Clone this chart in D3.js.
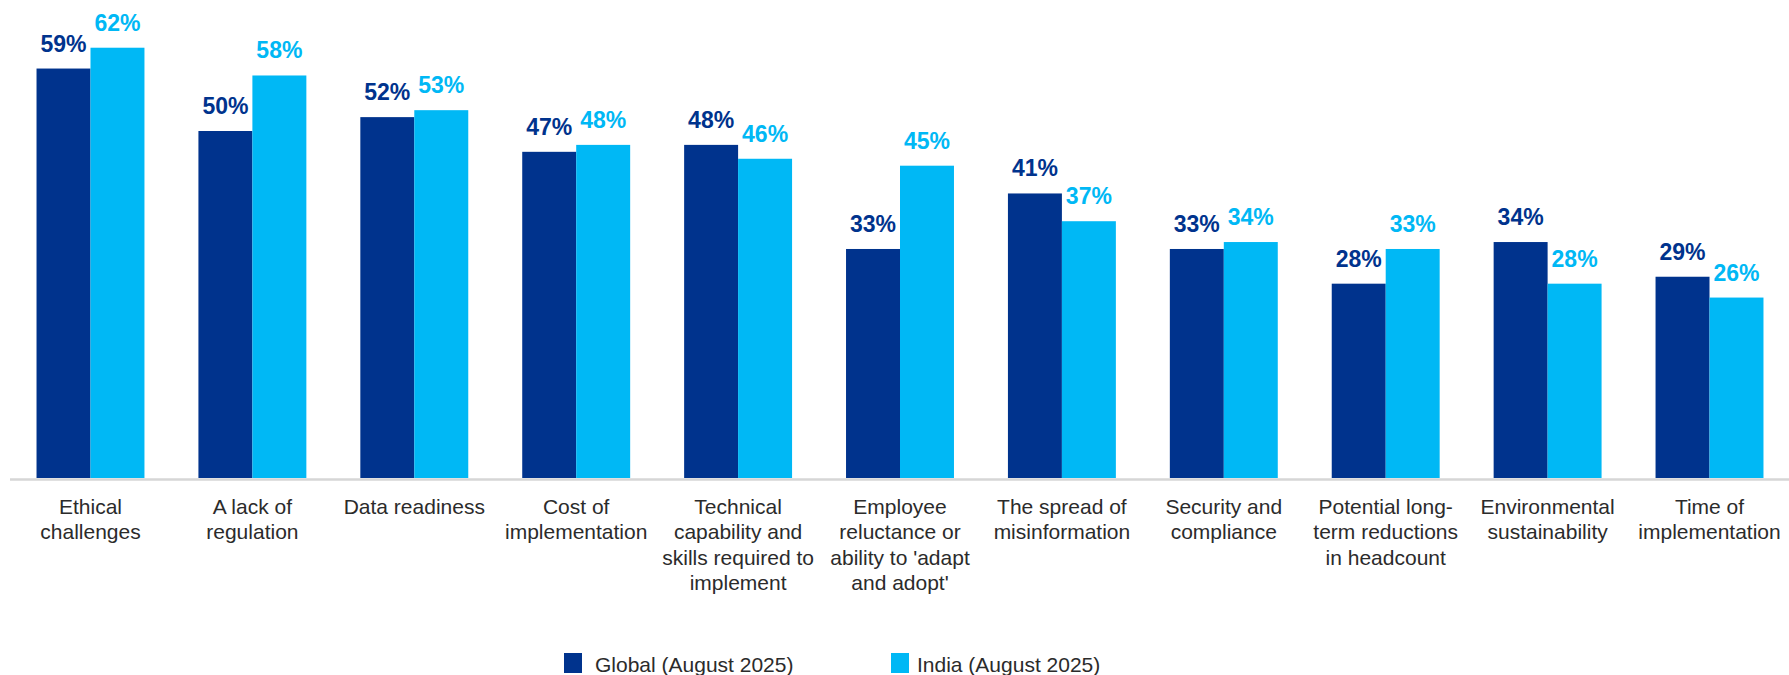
<!DOCTYPE html>
<html>
<head>
<meta charset="utf-8">
<script src="https://cdn.jsdelivr.net/npm/d3@7"></script>
<style>
  html, body { margin: 0; padding: 0; background: #fff; }
  svg { display: block; font-family: "Liberation Sans", Arial, sans-serif; }
</style>
</head>
<body>
<svg id="chart"></svg>
<script>
// chart data
const categories = [
  ['Ethical', 'challenges'],
  ['A lack of', 'regulation'],
  ['Data readiness'],
  ['Cost of', 'implementation'],
  ['Technical', 'capability and', 'skills required to', 'implement'],
  ['Employee', 'reluctance or', "ability to 'adapt", "and adopt'"],
  ['The spread of', 'misinformation'],
  ['Security and', 'compliance'],
  ['Potential long-', 'term reductions', 'in headcount'],
  ['Environmental', 'sustainability'],
  ['Time of', 'implementation']
];
const seriesNames = ['Global (August 2025)', 'India (August 2025)'];
const globalValues = [59, 50, 52, 47, 48, 33, 41, 33, 28, 34, 29];
const indiaValues = [62, 58, 53, 48, 46, 45, 37, 34, 33, 28, 26];
const colors = ['#00338D', '#00B8F5'];

const width = 1789, height = 675;
const baseY = 478;

const svg = d3.select('#chart')
  .attr('width', width)
  .attr('height', height);

const rows = categories.map((c, i) => ({ idx: i, lines: c, vals: [globalValues[i], indiaValues[i]] }));

// scales
const x0 = d3.scaleBand()
  .domain(rows.map(d => d.idx))
  .range([9, 1791])
  .paddingInner(1 / 3)
  .paddingOuter(0.17);

const x1 = d3.scaleBand()
  .domain([0, 1])
  .range([0, x0.bandwidth()])
  .padding(0);

const y = d3.scaleLinear()
  .domain([0, 100])
  .range([baseY, baseY - 694]);

// axis line
svg.append('line')
  .attr('x1', 10).attr('x2', width)
  .attr('y1', baseY + 1.5).attr('y2', baseY + 1.5)
  .attr('stroke', '#d6d6d6')
  .attr('stroke-width', 2.5);

// bars
const groups = svg.selectAll('g.grp')
  .data(rows)
  .enter().append('g')
  .attr('class', 'grp')
  .attr('transform', d => `translate(${x0(d.idx)},0)`);

groups.selectAll('rect')
  .data(d => d.vals.map((v, s) => ({ v, s })))
  .enter().append('rect')
  .attr('x', d => x1(d.s))
  .attr('y', d => y(d.v))
  .attr('width', x1.bandwidth())
  .attr('height', d => baseY - y(d.v))
  .attr('fill', d => colors[d.s]);

// value labels
groups.selectAll('text.val')
  .data(d => d.vals.map((v, s) => ({ v, s })))
  .enter().append('text')
  .attr('class', 'val')
  .attr('x', d => x1(d.s) + x1.bandwidth() / 2)
  .attr('y', d => y(d.v) - 17)
  .attr('text-anchor', 'middle')
  .attr('font-size', 23)
  .attr('font-weight', 'bold')
  .attr('fill', d => colors[d.s])
  .text(d => d.v + '%');

// category labels
const catText = svg.selectAll('text.cat')
  .data(rows)
  .enter().append('text')
  .attr('class', 'cat')
  .attr('x', d => x0(d.idx) + x0.bandwidth() / 2)
  .attr('y', 514)
  .attr('text-anchor', 'middle')
  .attr('font-size', 21)
  .attr('fill', '#2b2b2b');

catText.selectAll('tspan')
  .data(d => d.lines.map(l => ({ l, x: x0(d.idx) + x0.bandwidth() / 2 })))
  .enter().append('tspan')
  .attr('x', d => d.x)
  .attr('dy', (d, i) => i === 0 ? 0 : 25.3)
  .text(d => d.l);

// legend
const legendX = [564, 891];
const legend = svg.selectAll('g.leg')
  .data(seriesNames)
  .enter().append('g')
  .attr('class', 'leg')
  .attr('transform', (d, i) => `translate(${legendX[i]},653)`);

legend.append('rect')
  .attr('width', 18)
  .attr('height', 20)
  .attr('fill', (d, i) => colors[i]);

legend.append('text')
  .attr('x', (d, i) => i === 0 ? 31 : 26)
  .attr('y', 19)
  .attr('font-size', 21)
  .attr('fill', '#2b2b2b')
  .text(d => d);
</script>
</body>
</html>
